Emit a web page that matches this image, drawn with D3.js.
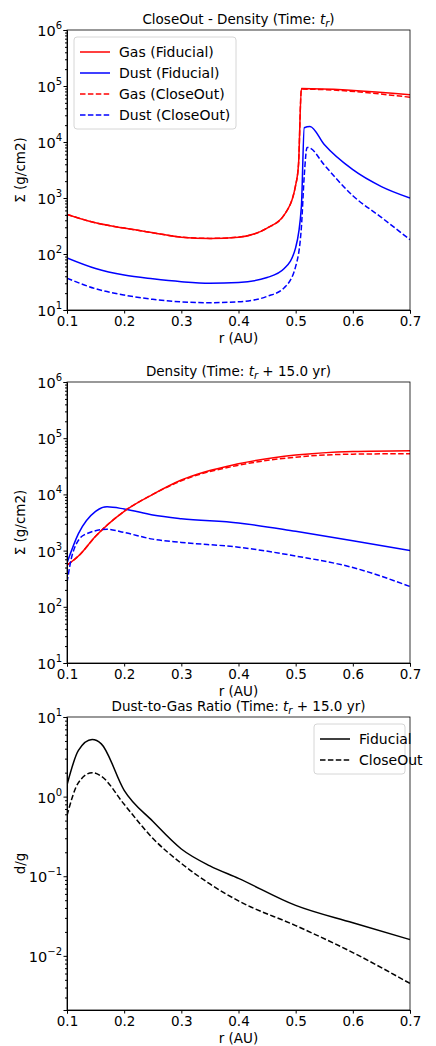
<!DOCTYPE html><html><head><meta charset="utf-8"><script src="https://cdn.jsdelivr.net/npm/d3@7"></script>
<style>body{margin:0;background:#fff}text{font-family:"DejaVu Sans",sans-serif}</style></head><body><svg id="c" width="436" height="1046"></svg><script>
const xTicks=[0.1,0.2,0.3,0.4,0.5,0.6,0.7];
// panel 1
const r1=[0.1,0.15,0.2,0.25,0.3,0.35,0.4,0.45,0.48,0.5,0.505,0.51,0.7];
const gasFid1=[510,360,290,240,200,190,200,290,500,1700,4000,90000,70000];
const gasCo1=[510,360,290,240,200,190,200,290,500,1700,4000,88000,63000];
const rD1=[0.1,0.15,0.2,0.25,0.3,0.35,0.4,0.45,0.48,0.5,0.51,0.515,0.525,0.55,0.6,0.65,0.7];
const dustFid1=[85,55,42,36,32,30,31,38,55,130,700,18000,19000,9000,3200,1600,1000];
const rD1c=[0.1,0.15,0.2,0.25,0.3,0.35,0.4,0.45,0.48,0.5,0.51,0.515,0.52,0.525,0.55,0.6,0.65,0.7];
const dustCo1=[37,24,18.5,15.5,14,13.5,14,17.5,25,60,300,2500,8000,7800,3900,1100,450,180];
// panel 2
const r2=[0.1,0.12,0.15,0.2,0.25,0.3,0.4,0.5,0.6,0.7];
const gasFid2=[550,800,1800,5000,10000,18000,35000,50000,58000,60000];
const gasCo2=[550,800,1800,5000,10000,17500,33000,46000,52000,53000];
const rD2=[0.1,0.12,0.15,0.17,0.2,0.25,0.3,0.4,0.5,0.6,0.7];
const dustFid2=[600,2000,5000,6000,5500,4300,3700,3100,2200,1500,1000];
const rD2c=[0.1,0.11,0.13,0.17,0.2,0.25,0.3,0.4,0.5,0.6,0.7];
const dustCo2=[270,900,1900,2400,2100,1600,1400,1150,800,500,230];
// panel 3
const r3=[0.1,0.12,0.144,0.16,0.2,0.25,0.3,0.35,0.4,0.5,0.6,0.7];
const dgFid=[1.4,3.8,5.2,4.6,1.2,0.49,0.22,0.135,0.094,0.043,0.026,0.016];
const dgCo=[0.58,1.5,2.0,1.8,0.8,0.3,0.145,0.08,0.049,0.024,0.011,0.0045];

const svg=d3.select("#c");
const L=67,R=410;
const x=d3.scaleLinear().domain([0.1,0.7]).range([L,R]);
function sup(e){return e<0?"\u2212"+(-e):""+e;}
function panel(top,bot,dom,title,ylab,series,legend){
  const y=d3.scaleLog().domain(dom).range([bot,top]);
  const g=svg.append("g");
  const clip="cl"+top;
  g.append("clipPath").attr("id",clip).append("rect").attr("x",L).attr("y",top).attr("width",R-L).attr("height",bot-top);
  series.forEach(s=>{
    const line=d3.line().x(d=>x(d[0])).y(d=>y(d[1])).curve(d3.curveMonotoneX);
    g.append("path").attr("clip-path",`url(#${clip})`).attr("d",line(s.r.map((v,i)=>[v,s.v[i]]))).attr("fill","none").attr("stroke",s.c).attr("stroke-width",1.5).attr("stroke-dasharray",s.dash?"5.5,2.4":null);
  });
  const xa=g.append("g").attr("transform",`translate(0,${bot})`).call(d3.axisBottom(x).tickValues(xTicks).tickFormat(d3.format(".1f")).tickSize(3.5).tickPadding(3));
  const lo=Math.ceil(Math.log10(dom[0])),hi=Math.floor(Math.log10(dom[1]));
  const major=d3.range(lo,hi+1).map(e=>Math.pow(10,e));
  const minor=[];for(let e=Math.floor(Math.log10(dom[0]));e<=hi;e++)for(let k=2;k<10;k++){const v=k*Math.pow(10,e);if(v>=dom[0]&&v<=dom[1])minor.push(v);}
  const ya=g.append("g").attr("transform",`translate(${L},0)`).call(d3.axisLeft(y).tickValues(major).tickFormat(()=>"").tickSize(3.5));
  g.append("g").attr("transform",`translate(${L},0)`).call(d3.axisLeft(y).tickValues(minor).tickFormat(()=>"").tickSize(2)).select(".domain").remove();
  major.forEach(v=>{const e=Math.round(Math.log10(v));const t=g.append("text").attr("x",L-5).attr("y",y(v)+6).attr("text-anchor","end").attr("font-size",14.5);
    t.append("tspan").text("10");t.append("tspan").attr("dy",-7).attr("font-size",10).text(sup(e));});
  [xa,ya].forEach(a=>{a.selectAll("text").attr("font-size",13.5).attr("fill","#000").style("font-family","DejaVu Sans");a.selectAll("line,path").attr("stroke","#000");});
  g.append("rect").attr("x",L).attr("y",top).attr("width",R-L).attr("height",bot-top).attr("fill","none").attr("stroke","#000").attr("stroke-width",0.8);
  const tt=g.append("text").attr("x",(L+R)/2).attr("y",top-6).attr("text-anchor","middle").attr("font-size",13.5);
  title.forEach(p=>{const s=tt.append("tspan").text(p.t);if(p.i)s.attr("font-style","italic");if(p.sub)s.attr("dy",3).attr("font-size",10);if(p.up)s.attr("dy",-3);});
  g.append("text").attr("x",(L+R)/2).attr("y",bot+33).attr("text-anchor","middle").attr("font-size",13.5).text("r (AU)");
  g.append("text").attr("transform",`translate(${L-42},${(top+bot)/2}) rotate(-90)`).attr("text-anchor","middle").attr("font-size",13.5).text(ylab);
  if(legend){
    const lg=g.append("g").attr("transform",`translate(${legend.x},${legend.y})`);
    lg.append("rect").attr("width",legend.w).attr("height",legend.items.length*21+8).attr("rx",3).attr("fill","#fff").attr("stroke","#ccc").attr("stroke-width",0.8);
    legend.items.forEach((it,i)=>{const yy=15+i*21;
      lg.append("line").attr("x1",6).attr("x2",36).attr("y1",yy).attr("y2",yy).attr("stroke",it.c).attr("stroke-width",1.5).attr("stroke-dasharray",it.dash?"5.5,2.4":null);
      lg.append("text").attr("x",45).attr("y",yy+5).attr("font-size",14).text(it.t);});
  }
}
const R_="red",B="blue";
panel(30,310,[10,1e6],[{t:"CloseOut - Density (Time: "},{t:"t",i:1},{t:"r",i:1,sub:1},{t:")",up:1}],"\u03A3 (g/cm2)",
 [{r:r1,v:gasFid1,c:R_},{r:rD1,v:dustFid1,c:B},{r:r1,v:gasCo1,c:R_,dash:1},{r:rD1c,v:dustCo1,c:B,dash:1}],
 {x:74,y:37,w:162,items:[{t:"Gas (Fiducial)",c:R_},{t:"Dust (Fiducial)",c:B},{t:"Gas (CloseOut)",c:R_,dash:1},{t:"Dust (CloseOut)",c:B,dash:1}]});
panel(382,663,[10,1e6],[{t:"Density  (Time: "},{t:"t",i:1},{t:"r",i:1,sub:1},{t:" + 15.0 yr)",up:1}],"\u03A3 (g/cm2)",
 [{r:r2,v:gasFid2,c:R_},{r:rD2,v:dustFid2,c:B},{r:r2,v:gasCo2,c:R_,dash:1},{r:rD2c,v:dustCo2,c:B,dash:1}],null);
panel(717,1010,[Math.pow(10,-2.68),10],[{t:"Dust-to-Gas Ratio (Time: "},{t:"t",i:1},{t:"r",i:1,sub:1},{t:" + 15.0 yr)",up:1}],"d/g",
 [{r:r3,v:dgFid,c:"#000"},{r:r3,v:dgCo,c:"#000",dash:1}],
 {x:314,y:724,w:91,items:[{t:"Fiducial",c:"#000"},{t:"CloseOut",c:"#000",dash:1}]});
</script></body></html>
